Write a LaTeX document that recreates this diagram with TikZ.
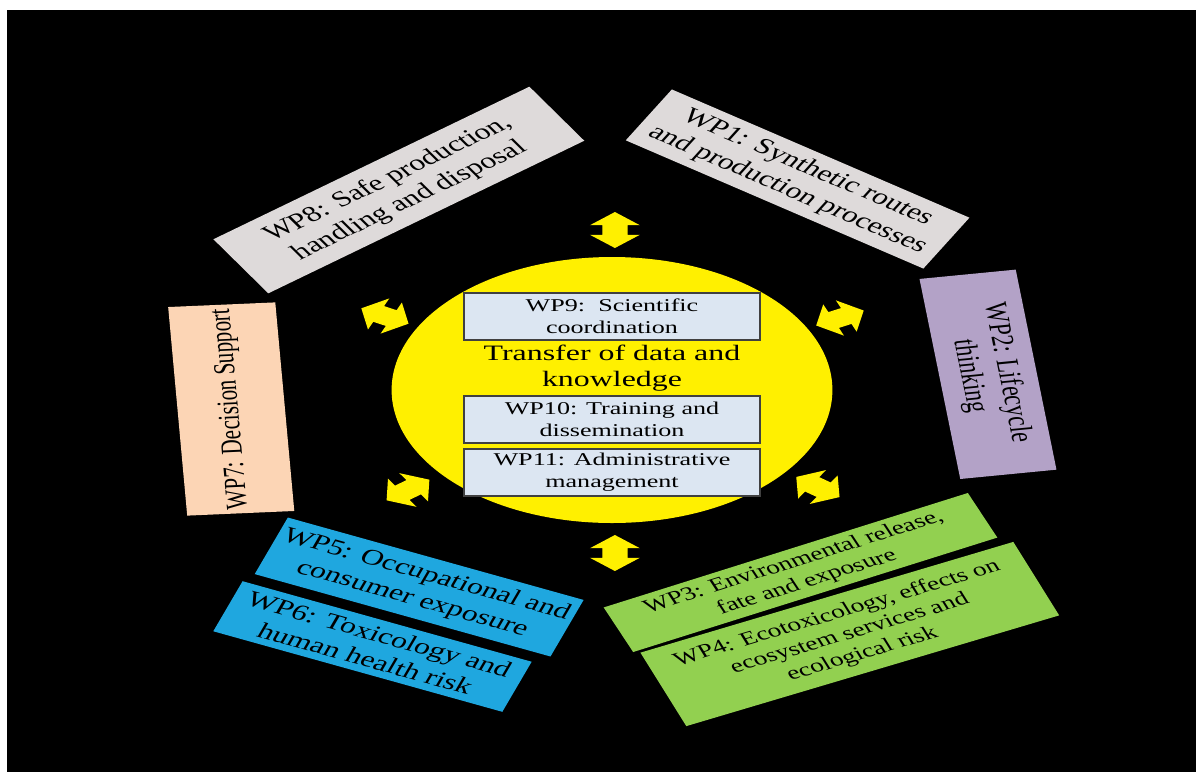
\documentclass[tikz,border=0pt]{standalone}
\usepackage{fontspec}
\setmainfont{Liberation Serif}
\usetikzlibrary{shapes.geometric,shapes.arrows}
\definecolor{hubyellow}{HTML}{FFF000}
\definecolor{wpgrey}{HTML}{DEDADA}
\definecolor{wppurple}{HTML}{B3A2C7}
\definecolor{wppeach}{HTML}{FCD5B5}
\definecolor{wpblue}{HTML}{1FA7DF}
\definecolor{wpgreen}{HTML}{92D050}
\definecolor{corefill}{HTML}{DCE6F2}
\definecolor{boxline}{HTML}{404040}
\begin{document}
\begin{tikzpicture}[x=1pt,y=-1pt,
  wpbox/.style={rectangle, inner sep=0pt, align=center, text=black,
    font=\fontsize{22}{26}\selectfont},
  corebox/.style={rectangle, draw=boxline, line width=1.3pt, fill=corefill,
    minimum width=204, minimum height=47, inner sep=0pt, align=center,
    font=\fontsize{18}{22}\selectfont},
  link/.style={double arrow, fill=hubyellow, draw=none, minimum height=36,
    inner xsep=0pt, inner ysep=8.5pt, double arrow head extend=8.5pt,
    double arrow tip angle=105}]
% page and black panel
\useasboundingbox (0,0) rectangle (1196,772);
\fill[white] (0,0) rectangle (1196,772);
\fill[black] (7,10) rectangle (1196,772);

\begin{scope}[shift={(612,0)}, xscale=1.45, transform shape]
  % central hub
  \node[ellipse, fill=hubyellow, minimum width=304, minimum height=266,
    inner sep=0pt] (hub) at (0,390) {};
  \node[corebox] (wp9) at (0,316.5) {WP9:\ \ Scientific\\coordination};
  \node[align=center, font=\fontsize{22}{26}\selectfont] (transfer) at (0,368)
    {Transfer of data and\\knowledge};
  \node[corebox] (wp10) at (0,419.5) {WP10: Training and\\dissemination};
  \node[corebox] (wp11) at (0,472.5) {WP11: Administrative\\management};

  % work packages around the hub
  \node[wpbox, fill=wpgrey, minimum width=242, minimum height=60, rotate=-32]
    (wp1) at (128,179) {WP1: Synthetic routes\\and production processes};
  \node[wpbox, fill=wppurple, minimum width=202, minimum height=67, rotate=-82]
    (wp2) at (259.3,374.3) {WP2: Lifecycle\\thinking};
  \node[wpbox, fill=wpgreen, minimum width=276, minimum height=49, rotate=24.5,
    font=\fontsize{19}{22}\selectfont]
    (wp3) at (130,572.5) {WP3: Environmental release,\\fate and exposure};
  \node[wpbox, fill=wpgreen, minimum width=280, minimum height=80, rotate=23.3,
    font=\fontsize{19}{22}\selectfont]
    (wp4) at (164,634) {WP4: Ecotoxicology, effects on\\ecosystem services and\\ecological risk};
  \node[wpbox, fill=wpblue, minimum width=220, minimum height=61, rotate=-22]
    (wp5) at (-133,587) {WP5: Occupational and\\consumer exposure};
  \node[wpbox, fill=wpblue, minimum width=215, minimum height=54, rotate=-22]
    (wp6) at (-165.2,646.5) {WP6: Toxicology and\\human health risk};
  \node[wpbox, fill=wppeach, minimum width=209, minimum height=74, rotate=93.6,
    font=\fontsize{21}{25}\selectfont]
    (wp7) at (-262.6,409) {WP7: Decision Support};
  \node[wpbox, fill=wpgrey, minimum width=266, minimum height=66, rotate=35]
    (wp8) at (-147,190) {WP8: Safe production,\\handling and disposal};

  % two-way exchange arrows
  \node[link, rotate=90] (a1) at (2,230) {};
  \node[link, rotate=24.6] (a2) at (157.2,318) {};
  \node[link, rotate=-34] (a3) at (142,487) {};
  \node[link, rotate=90] (a4) at (2,553) {};
  \node[link, rotate=35] (a5) at (-140.7,490) {};
  \node[link, rotate=-25.3] (a6) at (-156.6,316) {};
\end{scope}
\end{tikzpicture}
\end{document}
